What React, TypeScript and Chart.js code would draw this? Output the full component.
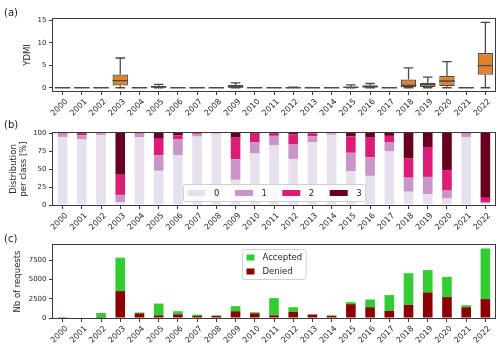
import React, { useEffect, useRef } from 'react';
import { Chart, registerables } from 'chart.js';

Chart.register(...registerables);

// ---------------- data ----------------
const years = [
  '2000', '2001', '2002', '2003', '2004', '2005', '2006', '2007', '2008', '2009', '2010', '2011',
  '2012', '2013', '2014', '2015', '2016', '2017', '2018', '2019', '2020', '2021', '2022',
];

// (a) YDMI box-plot statistics per year
const ydmiLow = [0, 0, 0, 0, 0, 0, 0, 0, 0, 0, 0, 0, 0, 0, 0, 0, 0, 0, 0, 0, 0, 0, 0];
const ydmiQ1 = [0, 0, 0, 0.5, 0, 0, 0, 0, 0, 0, 0, 0, 0, 0, 0, 0, 0, 0, 0, 0.15, 0.35, 0, 2.9];
const ydmiMedian = [0, 0, 0, 1.6, 0, 0.15, 0, 0, 0, 0.15, 0, 0, 0, 0, 0, 0.1, 0.2, 0, 0.5, 0.7, 1.5, 0, 4.95];
const ydmiQ3 = [0, 0, 0, 2.95, 0, 0.45, 0, 0, 0, 0.6, 0, 0, 0.1, 0, 0, 0.3, 0.55, 0, 1.85, 1.1, 2.6, 0, 7.75];
const ydmiHigh = [0, 0, 0, 6.65, 0, 0.75, 0, 0, 0, 1.1, 0, 0, 0.15, 0, 0, 0.65, 0.95, 0, 4.45, 2.35, 5.85, 0, 14.6];
const ydmiTicks = [0, 5, 10, 15];

// (b) distribution per class [%]
const classLabels = ['0', '1', '2', '3'];
const class0 = [94.5, 91, 97, 4, 94, 47.5, 69, 95, 99, 35, 71.5, 83, 64, 87.5, 97.5, 47, 40.5, 75, 18.5, 15, 9, 94.5, 2.5];
const class1 = [4.5, 6, 2.5, 10, 5, 21.5, 22, 3.5, 0.5, 28.5, 16, 13, 20, 8, 2, 25.5, 26, 12.5, 19.5, 24, 11, 4.5, 1];
const class2 = [0.5, 2, 0.5, 28, 0.5, 23, 6, 1, 0.5, 30, 11.5, 3, 14, 4, 0.5, 23, 27, 8.5, 26.5, 41.5, 28.5, 0.5, 6.5];
const class3 = [0.5, 1, 0, 58, 0.5, 8, 3, 0.5, 0, 6.5, 1, 1, 2, 0.5, 0, 4.5, 6.5, 4, 35.5, 19.5, 51.5, 0.5, 90];
const distTicks = [0, 25, 50, 75, 100];

// (c) number of requests
const denied = [20, 0, 30, 3500, 600, 350, 480, 260, 260, 880, 610, 350, 790, 440, 260, 1800, 1400, 920, 1710, 3330, 2720, 1400, 2460];
const accepted = [0, 0, 620, 4350, 120, 1530, 400, 180, 90, 660, 140, 2240, 610, 40, 90, 260, 1010, 2060, 4120, 2900, 2630, 260, 6580];
const requestTicks = [0, 2500, 5000, 7500];

// ---------------- styles ----------------
const FONT = "'DejaVu Sans', sans-serif";
const INK = '#262626';
const SPINE = '#3a3a3a';
const ORANGE = '#e1812c';
const BOXLINE = '#4a4a4a';
const CLASS_COLORS = ['#e7e1ef', '#c994c7', '#dd1c77', '#67001f'];
const ACCEPTED_COLOR = '#32cd32';
const DENIED_COLOR = '#8b0000';

function xAxis(height: number, stacked: boolean) {
  return {
    type: 'category',
    offset: true,
    stacked,
    grid: {
      display: true,
      drawOnChartArea: false,
      drawTicks: true,
      tickLength: 4,
      tickColor: SPINE,
      offset: false,
    },
    border: { display: false },
    ticks: {
      autoSkip: false,
      maxRotation: 45,
      minRotation: 45,
      padding: 2,
      labelOffset: 4,
      color: INK,
      font: { family: FONT, size: 8 },
    },
    afterFit: (s: any) => {
      s.height = height;
    },
  };
}

function yAxis(
  min: number,
  max: number,
  tickVals: number[],
  title: string | string[],
  titlePad: number,
  titleLineHeight: number,
  stacked: boolean
) {
  return {
    type: 'linear',
    min,
    max,
    stacked,
    grid: {
      display: true,
      drawOnChartArea: false,
      drawTicks: true,
      tickLength: 4,
      tickColor: SPINE,
    },
    border: { display: false },
    ticks: {
      padding: 2.5,
      color: INK,
      font: { family: FONT, size: 7 },
      callback: (v: any) => String(v),
    },
    afterBuildTicks: (s: any) => {
      s.ticks = tickVals.map((v) => ({ value: v }));
    },
    title: {
      display: true,
      text: title,
      color: INK,
      font: { family: FONT, size: 8.5, lineHeight: titleLineHeight },
      padding: { top: titlePad, bottom: 0 },
    },
    afterFit: (s: any) => {
      s.width = 53;
    },
  };
}

const framePlugin = {
  id: 'frame',
  afterDatasetsDraw(chart: any) {
    const { left, top, right, bottom } = chart.chartArea;
    const ctx = chart.ctx;
    ctx.save();
    ctx.strokeStyle = SPINE;
    ctx.lineWidth = 1;
    const l = Math.round(left) - 0.5;
    const t = Math.round(top) - 0.5;
    const r = Math.round(right) + 0.5;
    const b = Math.round(bottom) + 0.5;
    ctx.strokeRect(l, t, r - l, b - t);
    ctx.restore();
  },
};

const boxWhiskerPlugin = {
  id: 'boxWhisker',
  afterDatasetsDraw(chart: any) {
    const meta = chart.getDatasetMeta(0);
    const yScale = chart.scales.y;
    const ctx = chart.ctx;
    ctx.save();
    ctx.strokeStyle = BOXLINE;
    ctx.lineWidth = 1.3;
    meta.data.forEach((bar: any, i: number) => {
      const { x, width } = bar.getProps(['x', 'width'], true);
      const half = width / 2;
      const capHalf = width * 0.31;
      const yLo = yScale.getPixelForValue(ydmiLow[i]);
      const yQ1 = yScale.getPixelForValue(ydmiQ1[i]);
      const yMed = yScale.getPixelForValue(ydmiMedian[i]);
      const yQ3 = yScale.getPixelForValue(ydmiQ3[i]);
      const yHi = yScale.getPixelForValue(ydmiHigh[i]);
      ctx.beginPath();
      ctx.moveTo(x, yQ3);
      ctx.lineTo(x, yHi);
      ctx.moveTo(x - capHalf, yHi);
      ctx.lineTo(x + capHalf, yHi);
      ctx.moveTo(x, yQ1);
      ctx.lineTo(x, yLo);
      ctx.moveTo(x - capHalf, yLo);
      ctx.lineTo(x + capHalf, yLo);
      ctx.moveTo(x - half, yMed);
      ctx.lineTo(x + half, yMed);
      ctx.stroke();
    });
    ctx.restore();
  },
};

interface LegendCfg {
  loc: 'lower' | 'upper';
  horizontal: boolean;
  reverse: boolean;
  patchW: number;
  patchH: number;
  textGap: number;
  colGap: number;
  rowH: number;
  padY: number;
}

function makeLegend(cfg: LegendCfg) {
  return {
    id: 'innerLegend',
    afterDraw(chart: any) {
      const ctx = chart.ctx;
      const area = chart.chartArea;
      let items = chart.data.datasets.map((d: any) => ({ label: d.label, color: d.backgroundColor }));
      if (cfg.reverse) items = items.slice().reverse();
      ctx.save();
      ctx.font = `8.5px ${FONT}`;
      const padX = 4;
      const widths = items.map((it: any) => ctx.measureText(it.label).width);
      let w: number;
      let h: number;
      if (cfg.horizontal) {
        w = padX * 2 + widths.reduce((s: number, tw: number) => s + cfg.patchW + cfg.textGap + tw, 0) + cfg.colGap * (items.length - 1);
        h = cfg.padY * 2;
      } else {
        w = padX * 2 + cfg.patchW + cfg.textGap + Math.max(...widths);
        h = cfg.padY * 2 + cfg.rowH * (items.length - 1);
      }
      const cx = (area.left + area.right) / 2;
      const bx = Math.round(cx - w / 2) + 0.5;
      const by = cfg.loc === 'lower' ? Math.round(area.bottom - 4 - h) + 0.5 : Math.round(area.top + 4) + 0.5;
      ctx.beginPath();
      if ((ctx as any).roundRect) (ctx as any).roundRect(bx, by, w, h, 2);
      else ctx.rect(bx, by, w, h);
      ctx.fillStyle = 'rgba(255,255,255,0.8)';
      ctx.fill();
      ctx.strokeStyle = '#d0d0d0';
      ctx.lineWidth = 1;
      ctx.stroke();
      ctx.textBaseline = 'middle';
      ctx.textAlign = 'left';
      let px = bx + padX;
      items.forEach((it: any, i: number) => {
        const rowY = cfg.horizontal ? by + h / 2 : by + cfg.padY + i * cfg.rowH;
        if (!cfg.horizontal) px = bx + padX;
        ctx.fillStyle = it.color;
        ctx.fillRect(px, rowY - cfg.patchH / 2, cfg.patchW, cfg.patchH);
        ctx.fillStyle = INK;
        ctx.fillText(it.label, px + cfg.patchW + cfg.textGap, rowY + 0.5);
        if (cfg.horizontal) px += cfg.patchW + cfg.textGap + widths[i] + cfg.colGap;
      });
      ctx.restore();
    },
  };
}

const baseOptions = (top: number) => ({
  responsive: false,
  animation: false,
  events: [],
  layout: { padding: { top, left: 0, right: 5, bottom: 0 } },
  plugins: { legend: { display: false }, tooltip: { enabled: false } },
});

export default function App() {
  const refA = useRef<HTMLCanvasElement>(null);
  const refB = useRef<HTMLCanvasElement>(null);
  const refC = useRef<HTMLCanvasElement>(null);

  useEffect(() => {
    const chartA = new Chart(refA.current as HTMLCanvasElement, {
      type: 'bar',
      data: {
        labels: years,
        datasets: [
          {
            label: 'YDMI',
            data: years.map((_, i) => [ydmiQ1[i], ydmiQ3[i]]),
            backgroundColor: ORANGE,
            borderColor: BOXLINE,
            borderWidth: 1.2,
            borderSkipped: false,
            barPercentage: 0.8,
            categoryPercentage: 1,
          },
        ],
      },
      options: {
        ...baseOptions(19),
        scales: {
          x: xAxis(34, false),
          y: yAxis(-0.73, 15.36, ydmiTicks, 'YDMI', 22.9, 1.2, false),
        },
      } as any,
      plugins: [boxWhiskerPlugin, framePlugin],
    });

    const classData = [class0, class1, class2, class3];
    const chartB = new Chart(refB.current as HTMLCanvasElement, {
      type: 'bar',
      data: {
        labels: years,
        datasets: classLabels.map((lab, k) => ({
          label: lab,
          data: classData[k],
          backgroundColor: CLASS_COLORS[k],
          borderWidth: 0,
          barPercentage: 0.5,
          categoryPercentage: 1,
        })),
      },
      options: {
        ...baseOptions(23),
        scales: {
          x: xAxis(30, true),
          y: yAxis(0, 100, distTicks, ['Distribution', 'per class [%]'], 9, 10 / 8.5, true),
        },
      } as any,
      plugins: [
        framePlugin,
        makeLegend({ loc: 'lower', horizontal: true, reverse: false, patchW: 18, patchH: 6, textGap: 8.5, colGap: 15.5, rowH: 0, padY: 8.5 }),
      ],
    });

    const chartC = new Chart(refC.current as HTMLCanvasElement, {
      type: 'bar',
      data: {
        labels: years,
        datasets: [
          {
            label: 'Denied',
            data: denied,
            backgroundColor: DENIED_COLOR,
            borderWidth: 0,
            barPercentage: 0.5,
            categoryPercentage: 1,
          },
          {
            label: 'Accepted',
            data: accepted,
            backgroundColor: ACCEPTED_COLOR,
            borderWidth: 0,
            barPercentage: 0.5,
            categoryPercentage: 1,
          },
        ],
      },
      options: {
        ...baseOptions(25),
        scales: {
          x: xAxis(33, true),
          y: yAxis(0, 9500, requestTicks, 'Nb of requests', 12.9, 1.2, true),
        },
      } as any,
      plugins: [
        framePlugin,
        makeLegend({ loc: 'upper', horizontal: false, reverse: true, patchW: 8, patchH: 6, textGap: 8, colGap: 0, rowH: 14, padY: 8 }),
      ],
    });

    return () => {
      chartA.destroy();
      chartB.destroy();
      chartC.destroy();
    };
  }, []);

  const panelLabel = (text: string, top: number) => (
    <div
      style={{
        position: 'absolute',
        left: 4,
        top,
        fontFamily: FONT,
        fontSize: 10,
        lineHeight: '12px',
        color: '#1a1a1a',
        zIndex: 5,
      }}
    >
      {text}
    </div>
  );

  return (
    <div
      style={{
        position: 'fixed',
        left: 0,
        top: 0,
        width: 500,
        height: 351,
        background: '#ffffff',
        overflow: 'hidden',
      }}
    >
      <canvas ref={refA} width={500} height={125} style={{ position: 'absolute', left: 0, top: 0 }} />
      <canvas ref={refB} width={500} height={125} style={{ position: 'absolute', left: 0, top: 110 }} />
      <canvas ref={refC} width={500} height={131} style={{ position: 'absolute', left: 0, top: 220 }} />
      {panelLabel('(a)', 6.8)}
      {panelLabel('(b)', 119.3)}
      {panelLabel('(c)', 232.7)}
    </div>
  );
}
